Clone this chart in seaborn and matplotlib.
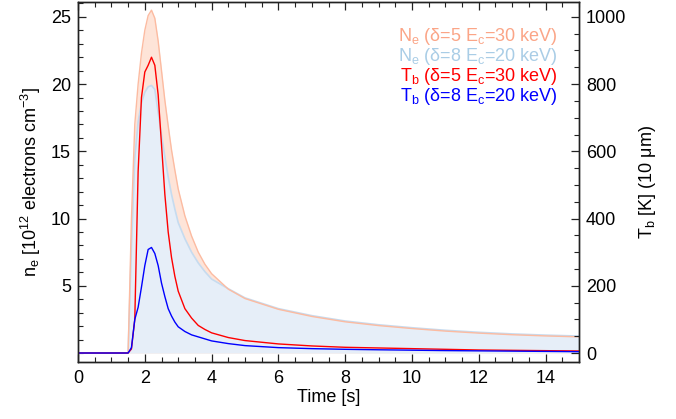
import matplotlib
matplotlib.use("Agg")
import pandas as pd
import seaborn as sns
from matplotlib import pyplot as plt
from matplotlib.ticker import MultipleLocator, FixedLocator

# values
time = [0.0, 1.5, 1.6, 1.7, 1.8, 1.9, 2.0, 2.1, 2.2, 2.3, 2.4, 2.5, 2.6, 2.7, 2.8,
        2.9, 3.0, 3.2, 3.4, 3.6, 3.8, 4.0, 4.5, 5.0, 6.0, 7.0, 8.0, 9.0, 10.0,
        11.0, 12.0, 13.0, 14.0, 15.0]

# electron density [1e12 cm^-3]
ne_d5 = [0.0, 0.0, 10.0, 17.0, 20.0, 22.3, 24.0, 25.1, 25.5, 24.9, 23.2, 21.0, 18.8,
         16.9, 15.1, 13.6, 12.2, 10.2, 8.7, 7.5, 6.6, 5.9, 4.75, 4.05, 3.25, 2.72,
         2.32, 2.04, 1.82, 1.63, 1.48, 1.36, 1.27, 1.2]
ne_d8 = [0.0, 0.0, 8.0, 14.5, 17.2, 18.6, 19.4, 19.8, 19.9, 19.6, 17.9, 16.2, 14.6,
         13.1, 11.8, 10.7, 9.7, 8.5, 7.5, 6.7, 6.05, 5.5, 4.78, 4.1, 3.3, 2.78, 2.38,
         2.1, 1.88, 1.69, 1.54, 1.42, 1.33, 1.26]

# brightness temperature [K]
tb_d5 = [0, 0, 12, 100, 540, 760, 836, 856, 880, 856, 768, 620, 472, 360, 284,
         228, 184, 132, 104, 82, 70, 60, 46, 37, 27, 21, 17, 15, 13, 11, 9, 8,
         7, 6]
tb_d8 = [0, 0, 16, 100, 136, 196, 260, 308, 314, 296, 260, 208, 168, 132, 110,
         92, 78, 64, 54, 48, 42, 36, 28, 22, 16, 13, 11, 9.6, 8.4, 7.2, 6.4, 5.6,
         4.8, 4]

labels = [r"N$_e$ (δ=5 E$_c$=30 keV)", r"N$_e$ (δ=8 E$_c$=20 keV)",
          r"T$_b$ (δ=5 E$_c$=30 keV)", r"T$_b$ (δ=8 E$_c$=20 keV)"]
label_colors = ["#fba587", "#a9cde6", "#ff0000", "#0000ff"]

sns.set_theme(style="ticks")
plt.rcParams["font.family"] = ["Liberation Sans", "DejaVu Sans"]
plt.rcParams["mathtext.fontset"] = "custom"
plt.rcParams["mathtext.rm"] = "Liberation Sans"
plt.rcParams["mathtext.it"] = "Liberation Sans:italic"
plt.rcParams["mathtext.default"] = "regular"
plt.rcParams["text.color"] = "black"
plt.rcParams["axes.labelcolor"] = "black"
plt.rcParams["xtick.color"] = "black"
plt.rcParams["ytick.color"] = "black"

df = pd.DataFrame({"time": time, "ne_d5": ne_d5, "ne_d8": ne_d8,
                   "tb_d5": tb_d5, "tb_d8": tb_d8})

fig, ax = plt.subplots(figsize=(6.76, 4.19), dpi=100)
fig.subplots_adjust(left=0.1154, right=0.8565, top=0.995, bottom=0.136)

ax.fill_between(df["time"], 0, df["ne_d5"], color="#fee4d8", lw=0)
ax.fill_between(df["time"], 0, df["ne_d8"], color="#e6eef8", lw=0)
sns.lineplot(data=df, x="time", y="ne_d8", ax=ax, color="#c6dbef", lw=1.2)
sns.lineplot(data=df, x="time", y="ne_d5", ax=ax, color="#fcbba1", lw=1.0)

ax2 = ax.twinx()
sns.lineplot(data=df, x="time", y="tb_d5", ax=ax2, color="#ff0000", lw=1.0)
sns.lineplot(data=df, x="time", y="tb_d8", ax=ax2, color="#0000ff", lw=1.0)

ax.set_xlim(0, 15)
ax.set_ylim(-0.67, 26.1)
ax2.set_ylim(-26.8, 1044)

fs = 13
ax.set_xlabel("Time [s]", fontsize=fs, labelpad=1)
ax.set_ylabel(r"n$_e$ [10$^{12}$ electrons cm$^{-3}$]", fontsize=fs, labelpad=6)
ax2.set_ylabel(r"T$_b$ [K] (10 μm)", fontsize=fs, labelpad=8)

ax.xaxis.set_major_locator(MultipleLocator(2))
ax.xaxis.set_minor_locator(MultipleLocator(0.5))
ax.yaxis.set_major_locator(FixedLocator([5, 10, 15, 20, 25]))
ax.yaxis.set_minor_locator(MultipleLocator(1))
ax2.yaxis.set_major_locator(MultipleLocator(200))
ax2.yaxis.set_minor_locator(MultipleLocator(50))

ax.tick_params(axis="x", which="both", direction="in", top=True, labelsize=fs, pad=6)
ax.tick_params(axis="y", which="both", direction="in", right=False, labelsize=fs, pad=5)
ax.tick_params(which="major", length=6, width=0.9, color="#222222")
ax.tick_params(which="minor", length=3.5, width=0.8, color="#222222")
ax2.tick_params(axis="y", which="both", direction="in", labelsize=fs, pad=5)
ax2.tick_params(which="major", length=6, width=0.9, color="#222222")
ax2.tick_params(which="minor", length=3.5, width=0.8, color="#222222")

for a in (ax, ax2):
    for sp in a.spines.values():
        sp.set_visible(True)
        sp.set_linewidth(1.0)
        sp.set_color("#222222")

ys = [0.905, 0.85, 0.792, 0.737]
for lab, col, y in zip(labels, label_colors, ys):
    ax.text(0.958, y, lab, color=col, fontsize=fs, ha="right", va="center",
            transform=ax.transAxes)

fig.savefig("out.png", dpi=100, facecolor="white")
